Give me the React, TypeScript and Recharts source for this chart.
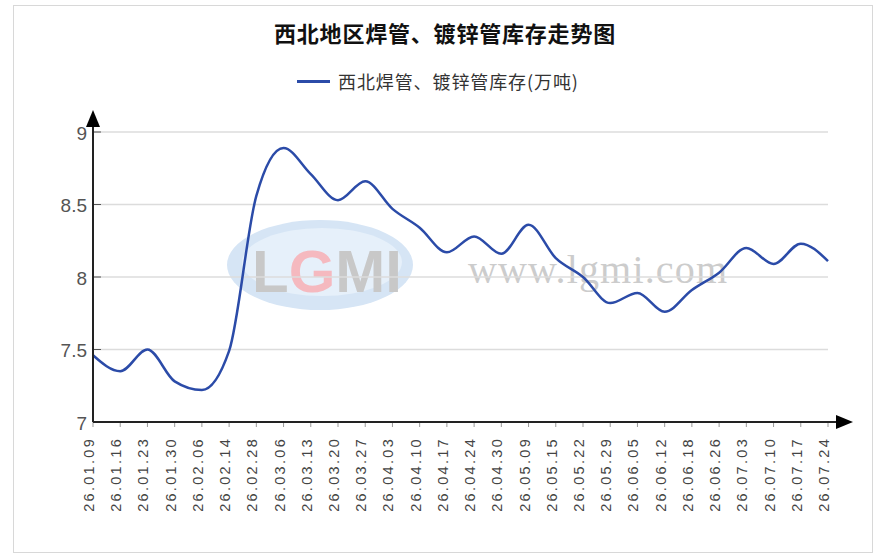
import { LineChart, Line, XAxis, YAxis, CartesianGrid } from 'recharts';

const dates = [
  '26.01.09', '26.01.16', '26.01.23', '26.01.30', '26.02.06', '26.02.14', '26.02.28',
  '26.03.06', '26.03.13', '26.03.20', '26.03.27', '26.04.03', '26.04.10', '26.04.17',
  '26.04.24', '26.04.30', '26.05.09', '26.05.15', '26.05.22', '26.05.29', '26.06.05',
  '26.06.12', '26.06.18', '26.06.26', '26.07.03', '26.07.10', '26.07.17', '26.07.24',
];

const stock = [
  7.46, 7.35, 7.5, 7.28, 7.22, 7.49, 8.56,
  8.89, 8.71, 8.53, 8.66, 8.47, 8.34, 8.17,
  8.28, 8.16, 8.36, 8.13, 8.0, 7.82, 7.89,
  7.76, 7.91, 8.03, 8.2, 8.09, 8.23, 8.11,
];

const yTicks = [7, 7.5, 8, 8.5, 9];

const title = '西北地区焊管、镀锌管库存走势图';
const seriesName = '西北焊管、镀锌管库存(万吨)';

const data = dates.map((d, i) => ({ date: d, value: stock[i] }));

// plot box inside the 882x558 frame
const W = 882;
const H = 558;
const LEFT = 93;
const TOP = 132;
const RIGHT = 828;
const BOTTOM = 422;

const LINE_COLOR = '#2b4ba8';
const SANS = '"Liberation Sans", Arial, sans-serif';
const CJK = '"Noto Sans CJK SC", "Noto Sans", sans-serif';

if (typeof document !== 'undefined') document.body.style.margin = '0';

function YTick(props: any) {
  const y = Number(props.y);
  return (
    <g>
      <line x1={LEFT} x2={LEFT + 8} y1={y} y2={y} stroke="#555" strokeWidth={1} />
      <text
        x={LEFT - 6}
        y={y + 1}
        textAnchor="end"
        dominantBaseline="central"
        fontSize={19}
        fontFamily={SANS}
        fill="#555"
      >
        {props.payload.value}
      </text>
    </g>
  );
}

function XTick(props: any) {
  const x = Number(props.x);
  const ty = BOTTOM + 15;
  return (
    <g>
      <line x1={x} x2={x} y1={BOTTOM} y2={BOTTOM + 5} stroke="#999" strokeWidth={1} />
      <text
        x={x + 1}
        y={ty}
        transform={`rotate(-90, ${x + 1}, ${ty})`}
        textAnchor="end"
        fontSize={14.5}
        letterSpacing={2.3}
        fontFamily={SANS}
        fill="#444"
      >
        {props.payload.value}
      </text>
    </g>
  );
}

export default function App() {
  return (
    <div style={{ position: 'relative', width: W, height: H, background: '#fff' }}>
      <div
        style={{
          position: 'absolute',
          left: 13,
          top: 5,
          width: 858,
          height: 546,
          border: '1px solid #d8d8d8',
        }}
      />
      {/* watermark under the line */}
      <svg width={W} height={H} style={{ position: 'absolute', left: 0, top: 0 }}>
        <ellipse cx={320} cy={265} rx={93} ry={45} fill="#d6e5f5" />
        <ellipse cx={322} cy={262} rx={80} ry={34} fill="#e6f0fa" />
        <text x={252} y={292} fontSize={60} fontWeight="bold" fontFamily={SANS} fill="#c8c8c8">
          L<tspan fill="#f5b9bf">G</tspan>MI
        </text>
        <text
          x={468}
          y={283}
          fontSize={40}
          fontFamily='"Liberation Serif", serif'
          fill="#cccccc"
          textLength={259}
        >
          www.lgmi.com
        </text>
      </svg>
      <div style={{ position: 'absolute', left: 0, top: 0 }}>
        <LineChart
          width={W}
          height={H}
          data={data}
          margin={{ top: TOP, left: LEFT - 60, right: W - RIGHT, bottom: H - BOTTOM - 30 }}
        >
          <CartesianGrid vertical={false} stroke="#dcdcdc" strokeWidth={1.5} />
          <XAxis
            dataKey="date"
            height={30}
            interval={0}
            axisLine={false}
            tickLine={false}
            tick={(p: any) => <XTick {...p} />}
          />
          <YAxis
            width={60}
            domain={[7, 9]}
            ticks={yTicks}
            axisLine={false}
            tickLine={false}
            tick={(p: any) => <YTick {...p} />}
          />
          <Line
            type="monotone"
            dataKey="value"
            stroke={LINE_COLOR}
            strokeWidth={2.5}
            dot={false}
            isAnimationActive={false}
          />
        </LineChart>
      </div>
      {/* axis lines with arrow heads */}
      <svg width={W} height={H} style={{ position: 'absolute', left: 0, top: 0, pointerEvents: 'none' }}>
        <line x1={LEFT} y1={BOTTOM} x2={LEFT} y2={118} stroke="#222" strokeWidth={2} />
        <polygon points={`${LEFT},110 ${LEFT - 7},127 ${LEFT + 7},127`} fill="#000" />
        <line x1={LEFT} y1={BOTTOM} x2={842} y2={BOTTOM} stroke="#222" strokeWidth={2} />
        <polygon points={`853,${BOTTOM} 836,${BOTTOM - 7} 836,${BOTTOM + 7}`} fill="#000" />
      </svg>
      <div
        style={{
          position: 'absolute',
          left: 0,
          width: W,
          top: 17,
          textAlign: 'center',
          fontFamily: CJK,
          fontWeight: 'bold',
          fontSize: 22,
          letterSpacing: 0.8,
          lineHeight: '30px',
          color: '#111',
          paddingLeft: 4,
        }}
      >
        {title}
      </div>
      <div
        style={{
          position: 'absolute',
          left: 297,
          top: 68,
          height: 26,
          display: 'flex',
          alignItems: 'center',
          fontFamily: CJK,
          fontSize: 18,
          letterSpacing: 0.9,
          color: '#333',
        }}
      >
        <span style={{ display: 'inline-block', width: 33, height: 3, background: LINE_COLOR, marginRight: 8 }} />
        <span>{seriesName}</span>
      </div>
    </div>
  );
}
